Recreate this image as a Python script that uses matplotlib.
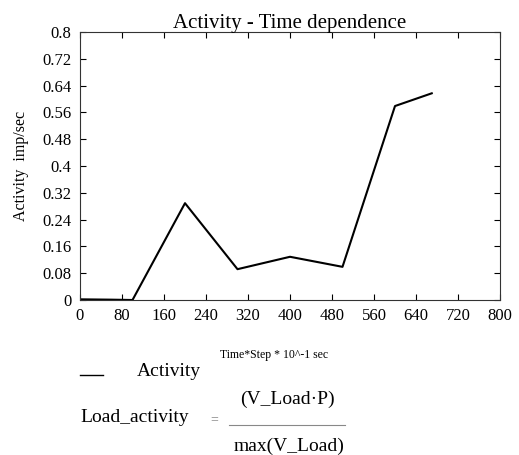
import matplotlib
matplotlib.use("Agg")
import matplotlib.pyplot as plt
import numpy as np

# data
time = [0, 60, 100, 200, 300, 400, 500, 600, 670]
activity = [0.002, 0.001, 0.0, 0.289, 0.092, 0.129, 0.099, 0.579, 0.617]

x_ticks = np.arange(0, 801, 80)
y_ticks = [0, 0.08, 0.16, 0.24, 0.32, 0.4, 0.48, 0.56, 0.64, 0.72, 0.8]
y_labels = ["0", "0.08", "0.16", "0.24", "0.32", "0.4", "0.48", "0.56", "0.64", "0.72", "0.8"]

plt.rcParams['font.family'] = ['Liberation Serif', 'DejaVu Serif']

fig = plt.figure(figsize=(5.19, 4.55), dpi=100)
ax = fig.add_axes([80 / 519, 1 - 300 / 455, 420 / 519, 268 / 455])

ax.plot(time, activity, color="black", lw=1.5)

ax.set_xlim(0, 800)
ax.set_ylim(0, 0.8)
ax.set_xticks(x_ticks)
ax.set_yticks(y_ticks)
ax.set_yticklabels(y_labels)
ax.tick_params(direction="in", length=4, width=0.8, top=True, right=True,
               labelsize=12, colors="black")
ax.tick_params(axis="x", pad=6)
ax.tick_params(axis="y", pad=6)
for s in ax.spines.values():
    s.set_linewidth(0.8)
    s.set_color("#333333")

ax.set_title("Activity - Time dependence", fontsize=15, pad=3)
ax.set_ylabel("Activity  imp/sec", fontsize=11.5, labelpad=10)

# legend-like block below the plot
fig.lines.append(plt.Line2D([80 / 519, 103 / 519], [1 - 375 / 455] * 2,
                            transform=fig.transFigure, color="black", lw=1))
fig.text(137 / 519, 1 - 372 / 455, "Activity", fontsize=14, va="center")
fig.text(220 / 519, 1 - 355 / 455, "Time*Step * 10^-1 sec", fontsize=8.5, va="center")

# formula
fig.text(80 / 519, 1 - 417 / 455, "Load_activity", fontsize=14, va="center")
fig.text(210 / 519, 1 - 420 / 455, "=", fontsize=10, va="center", color="#888888")
fig.text(287 / 519, 1 - 399 / 455, "(V_Load\u00b7P)", fontsize=14, va="center", ha="center")
fig.lines.append(plt.Line2D([229 / 519, 345 / 519], [1 - 425 / 455] * 2,
                            transform=fig.transFigure, color="#888888", lw=0.8))
fig.text(289 / 519, 1 - 446 / 455, "max(V_Load)", fontsize=14, va="center", ha="center")

fig.savefig("out.png", dpi=100)
